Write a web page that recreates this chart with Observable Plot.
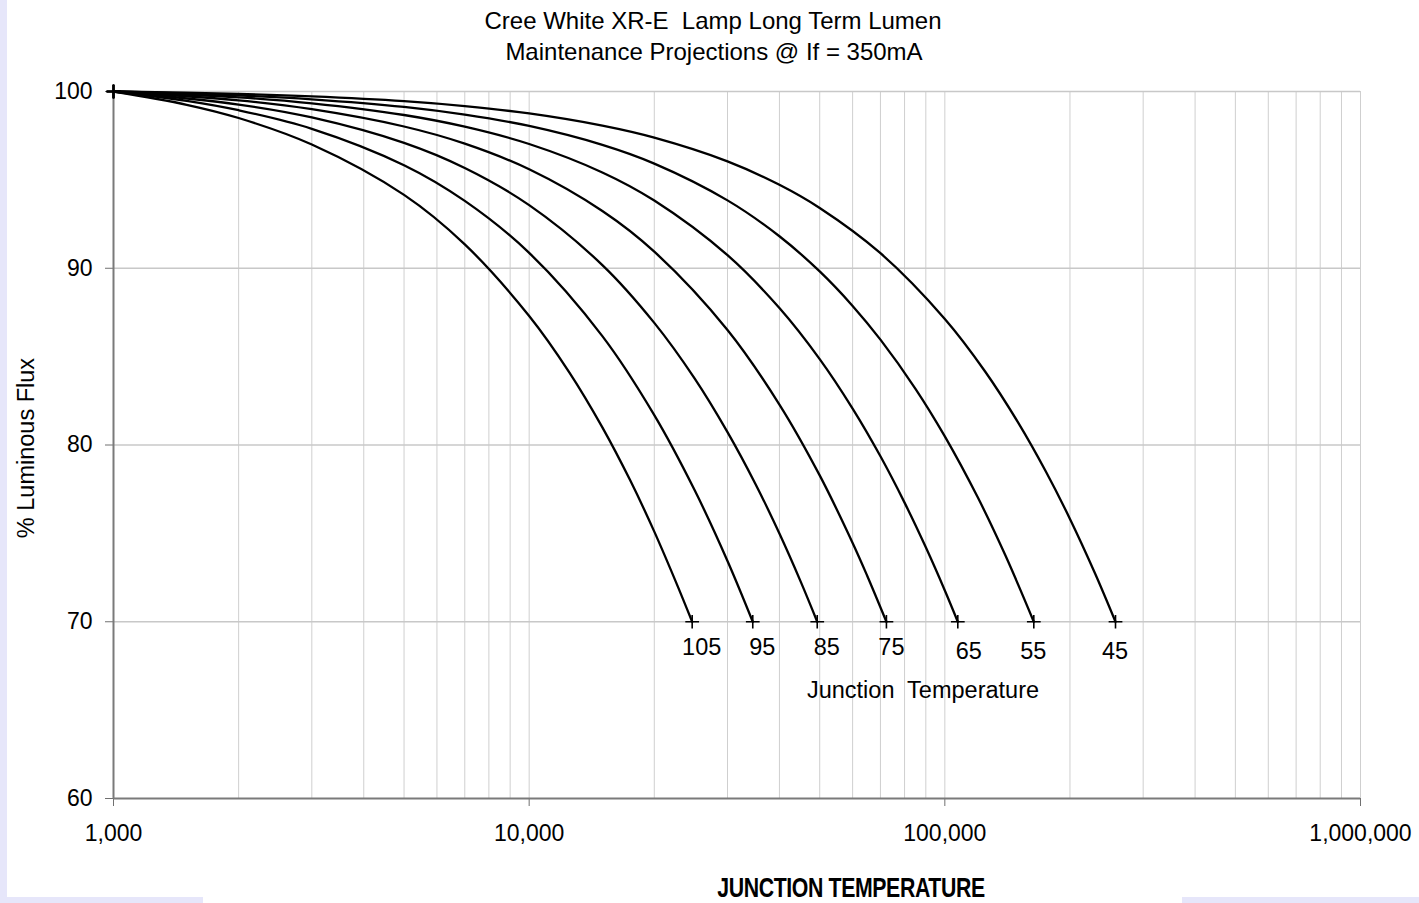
<!DOCTYPE html>
<html>
<head>
<meta charset="utf-8">
<script src="https://cdn.jsdelivr.net/npm/d3@7"></script>
<script src="https://cdn.jsdelivr.net/npm/@observablehq/plot@0.6"></script>
<style>
  html, body { margin: 0; padding: 0; background: #e6e6fa; }
  #wrap { position: relative; width: 1419px; height: 903px; overflow: hidden; font-family: "Liberation Sans", Arial, sans-serif; color: #000; }
  .white { position: absolute; background: #fff; }
  .txt { position: absolute; white-space: pre; line-height: 1; }
  #chart { position: absolute; left: 0; top: 0; }
</style>
</head>
<body>
<div id="wrap">
  <div class="white" style="left:7px;top:0;width:1412px;height:897px"></div>
  <div class="white" style="left:203px;top:897px;width:979px;height:6px"></div>
  <div id="chart"></div>
  <div class="txt" id="t1" style="font-size:24px;left:713px;top:9px;transform:translateX(-50%)">Cree White XR-E  Lamp Long Term Lumen</div>
  <div class="txt" id="t2" style="font-size:24px;left:714px;top:40px;transform:translateX(-50%)">Maintenance Projections @ If = 350mA</div>
  <div class="txt" id="ylab" style="font-size:23.5px;left:27px;top:448px;transform:translate(-50%,-50%) rotate(-90deg)">% Luminous Flux</div>
  <div class="txt" id="ann" style="font-size:23.5px;left:923px;top:679px;transform:translateX(-50%)">Junction  Temperature</div>
  <div class="txt" id="xlab" style="font-size:28px;line-height:22px;font-weight:bold;font-family:'Liberation Sans',Arial,sans-serif;left:851px;top:877px;transform:translateX(-50%) scaleX(0.76);transform-origin:50% 0;letter-spacing:-0.5px">JUNCTION TEMPERATURE</div>
</div>
<script>
// Junction temperatures (°C) for each curve
const temps = [105, 95, 85, 75, 65, 55, 45];

// [hours, % luminous flux]
const curve105 = [[1000,100],[1500,99.25],[2000,98.5],[3000,97.0],[5000,94.15],[7000,91.35],[10000,87.3],[12500,84.1],[15000,81.0],[17500,78.0],[20000,75.1],[22500,72.3],[24670,70]];
const curve95  = [[1000,100],[1500,99.47],[2000,98.94],[3000,97.89],[5000,95.83],[7000,93.81],[10000,90.87],[15000,86.16],[20000,81.69],[25000,77.45],[30000,73.44],[34510,70]];
const curve85  = [[1000,100],[2000,99.26],[3000,98.53],[5000,97.09],[7000,95.67],[10000,93.57],[15000,90.18],[20000,86.91],[25000,83.77],[30000,80.73],[35000,77.81],[40000,74.99],[45000,72.27],[49320,70]];
const curve75  = [[1000,100],[2000,99.5],[3000,99.0],[5000,98.02],[7000,97.05],[10000,95.6],[15000,93.24],[20000,90.94],[30000,86.51],[40000,82.29],[50000,78.28],[60000,74.46],[65000,72.62],[72360,70]];
const curve65  = [[1000,100],[2000,99.67],[3000,99.33],[5000,98.67],[7000,98.01],[10000,97.03],[15000,95.42],[20000,93.83],[30000,90.74],[40000,87.75],[50000,84.86],[60000,82.06],[70000,79.36],[80000,76.74],[90000,74.21],[100000,71.77],[107450,70]];
const curve55  = [[1000,100],[2000,99.78],[3000,99.56],[5000,99.13],[7000,98.69],[10000,98.05],[15000,96.98],[20000,95.92],[30000,93.84],[40000,91.81],[50000,89.82],[60000,87.87],[70000,85.96],[85000,83.18],[100000,80.49],[120000,77.04],[140000,73.73],[163700,70]];
const curve45  = [[1000,100],[2000,99.86],[3000,99.72],[5000,99.45],[7000,99.17],[10000,98.76],[15000,98.07],[20000,97.39],[30000,96.05],[40000,94.72],[50000,93.41],[70000,90.85],[100000,87.13],[125000,84.16],[150000,81.28],[175000,78.5],[200000,75.82],[230000,72.72],[257400,70]];

// Axis tick values
const xTicks = [1000, 10000, 100000, 1000000];
const yTicks = [60, 70, 80, 90, 100];

const curves = [curve105, curve95, curve85, curve75, curve65, curve55, curve45];
const table = curves.flatMap((c, i) => c.map(([h, f]) => ({temp: temps[i], hours: h, flux: f})));
const ends = curves.map((c, i) => ({temp: temps[i], hours: c[c.length - 1][0], flux: c[c.length - 1][1]}));
const starts = curves.map((c, i) => ({temp: temps[i], hours: c[0][0], flux: c[0][1]}));

// minor log gridlines (1..9 per decade)
const gridTicks = [];
for (const d of [1e3, 1e4, 1e5]) for (let k = 1; k <= 9; k++) gridTicks.push(k * d);
gridTicks.push(1e6);

const fmt = d3.format(",");

const chart = Plot.plot({
  width: 1419,
  height: 903,
  marginTop: 91,
  marginBottom: 105,
  marginLeft: 113,
  marginRight: 59,
  style: {background: "transparent", fontFamily: "'Liberation Sans', Arial, sans-serif", fontSize: "23px", color: "#000"},
  x: {type: "log", domain: [1000, 1000000]},
  y: {domain: [60, 100]},
  marks: [
    Plot.gridX(gridTicks, {stroke: "#cfcfcf", strokeOpacity: 1, strokeWidth: 1}),
    Plot.gridY([70, 80, 90, 100], {stroke: "#c8c8c8", strokeOpacity: 1, strokeWidth: 1.5}),
    Plot.axisY(yTicks, {tickSize: 8, tickPadding: 13, stroke: "#707070", fill: "#000", label: null, fontSize: 23}),
    Plot.axisX(xTicks, {tickSize: 8, tickPadding: 18, stroke: "#707070", fill: "#000", label: null, tickFormat: fmt, fontSize: 23}),
    Plot.ruleX([1000], {stroke: "#7a7a7a", strokeWidth: 2}),
    Plot.ruleY([60], {stroke: "#7a7a7a", strokeWidth: 2}),
    Plot.line(table, {x: "hours", y: "flux", z: "temp", stroke: "#000", strokeWidth: 2.3, curve: "catmull-rom"}),
    Plot.dot(ends, {x: "hours", y: "flux", symbol: "plus", r: 4.5, stroke: "#000", strokeWidth: 1.6}),
    Plot.dot(starts, {x: "hours", y: "flux", symbol: "plus", r: 4.5, stroke: "#000", strokeWidth: 1.6}),
    Plot.text(ends, {filter: d => [105, 95, 85].includes(d.temp), x: "hours", y: "flux", text: d => String(d.temp), dx: 9.5, dy: 26, fontSize: 23.5, fill: "#000"}),
    Plot.text(ends, {filter: d => d.temp === 75, x: "hours", y: "flux", text: d => String(d.temp), dx: 5, dy: 26, fontSize: 23.5, fill: "#000"}),
    Plot.text(ends, {filter: d => d.temp === 65, x: "hours", y: "flux", text: d => String(d.temp), dx: 11, dy: 30, fontSize: 23.5, fill: "#000"}),
    Plot.text(ends, {filter: d => d.temp <= 55, x: "hours", y: "flux", text: d => String(d.temp), dx: -0.5, dy: 30, fontSize: 23.5, fill: "#000"})
  ]
});
document.getElementById("chart").appendChild(chart);
</script>
</body>
</html>
